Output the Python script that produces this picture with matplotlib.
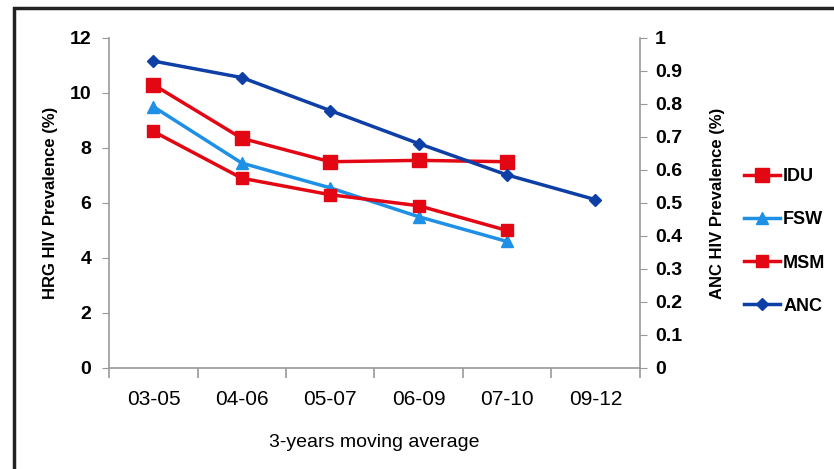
import matplotlib
matplotlib.use("Agg")
import matplotlib.pyplot as plt
from matplotlib.patches import Rectangle

# data
periods = ["03-05", "04-06", "05-07", "06-09", "07-10", "09-12"]
idu = [10.3, 8.35, 7.5, 7.55, 7.5]
fsw = [9.5, 7.45, 6.55, 5.5, 4.6]
msm = [8.6, 6.9, 6.3, 5.9, 5.0]
anc = [0.93, 0.88, 0.78, 0.68, 0.585, 0.51]

plt.rcParams['font.family'] = ['Liberation Sans', 'DejaVu Sans']

fig = plt.figure(figsize=(8.34, 4.69), dpi=100)
# outer frame of the original figure
fig.patches.append(Rectangle((14 / 834, -0.2), 1.5, 1.2 - 8 / 469,
                             transform=fig.transFigure, fill=False,
                             edgecolor='#222222', linewidth=2.5))

ax = fig.add_axes([0.131, 0.2154, 0.636, 0.7036])
ax2 = ax.twinx()

red = '#E30613'
lblue = '#1E90E6'
dblue = '#0D3FA6'

x = range(len(periods))
l1, = ax.plot(x[:5], idu, color=red, lw=2.5, marker='s', ms=10, label='IDU')
l2, = ax.plot(x[:5], fsw, color=lblue, lw=2.5, marker='^', ms=8, label='FSW')
l3, = ax.plot(x[:5], msm, color=red, lw=2.5, marker='s', ms=9, label='MSM')
l4, = ax2.plot(x, anc, color=dblue, lw=2.5, marker='D', ms=6, label='ANC')

ax.set_ylim(0, 12)
ax.set_yticks(range(0, 13, 2))
ax2.set_ylim(0, 1)
ax2.set_yticks([i / 10 for i in range(11)])
ax2.set_yticklabels(['0'] + ['%.1f' % (i / 10) for i in range(1, 10)] + ['1'])
ax.set_xlim(-0.5, 5.5)
ax.set_xticks(list(x))
ax.set_xticklabels(periods, fontsize=15)
ax.set_xticks([i - 0.5 for i in range(7)], minor=True)
ax.tick_params(axis='x', which='major', length=0, pad=16)
ax.tick_params(axis='x', which='minor', length=7, width=1.2, color='#999999', direction='out')

for a in (ax, ax2):
    a.spines['top'].set_visible(False)
    for s in a.spines.values():
        s.set_color('#999999')
        s.set_linewidth(1.2)
ax.spines['right'].set_visible(False)
ax2.spines['left'].set_visible(False)
ax2.spines['bottom'].set_visible(False)

ax.tick_params(axis='y', length=5, color='#999999', labelsize=14, pad=8)
ax2.tick_params(axis='y', length=5, color='#999999', labelsize=14, pad=6)
for t in ax.get_yticklabels() + ax2.get_yticklabels():
    t.set_fontweight('bold')

ax.set_ylabel('HRG HIV Prevalence (%)', fontsize=12, fontweight='bold', labelpad=8)
ax2.set_ylabel('ANC HIV Prevalence (%)', fontsize=12, fontweight='bold', labelpad=20)
ax.set_xlabel('3-years moving average', fontsize=14, labelpad=18)

fig.legend(handles=[l1, l2, l3, l4], loc='upper left',
           bbox_to_anchor=(728 / 834, 1 - 152 / 469), frameon=False,
           handlelength=2.0, handletextpad=0.15, labelspacing=1.45,
           prop={'size': 13, 'weight': 'bold'})

fig.savefig('out.png', dpi=100)
